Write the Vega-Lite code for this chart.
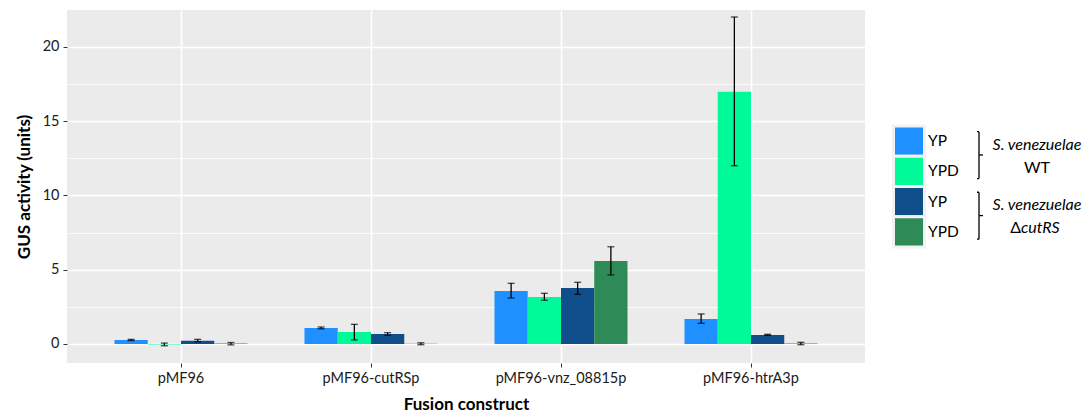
{
  "$schema": "https://vega.github.io/schema/vega-lite/v6.json",
  "autosize": {"type": "pad"},
  "padding": {"left": 15, "top": 10, "right": 0, "bottom": 0},
  "background": "white",
  "bounds": "flush",
  "center": true,
  "spacing": 25,
  "config": {
    "font": "Lato",
    "view": {"stroke": null},
    "axis": {"labelFont": "Lato", "titleFont": "Lato", "labelColor": "#1a1a1a", "titleColor": "#000000", "labelFontSize": 14.5, "titleFontSize": 17, "titleFontWeight": "bold"},
    "text": {"font": "Lato"}
  },
  "datasets": {
    "gus": [
      {"construct": "pMF96", "series": "WT YP", "value": 0.27, "lo": 0.23, "hi": 0.31},
      {"construct": "pMF96", "series": "WT YPD", "value": -0.03, "lo": -0.12, "hi": 0.06},
      {"construct": "pMF96", "series": "ΔcutRS YP", "value": 0.22, "lo": 0.15, "hi": 0.31},
      {"construct": "pMF96", "series": "ΔcutRS YPD", "value": 0.03, "lo": -0.06, "hi": 0.1},
      {"construct": "pMF96-cutRSp", "series": "WT YP", "value": 1.08, "lo": 1.02, "hi": 1.14},
      {"construct": "pMF96-cutRSp", "series": "WT YPD", "value": 0.81, "lo": 0.27, "hi": 1.32},
      {"construct": "pMF96-cutRSp", "series": "ΔcutRS YP", "value": 0.67, "lo": 0.59, "hi": 0.76},
      {"construct": "pMF96-cutRSp", "series": "ΔcutRS YPD", "value": 0.02, "lo": -0.05, "hi": 0.08},
      {"construct": "pMF96-vnz_08815p", "series": "WT YP", "value": 3.56, "lo": 3.09, "hi": 4.08},
      {"construct": "pMF96-vnz_08815p", "series": "WT YPD", "value": 3.16, "lo": 2.94, "hi": 3.41},
      {"construct": "pMF96-vnz_08815p", "series": "ΔcutRS YP", "value": 3.77, "lo": 3.34, "hi": 4.15},
      {"construct": "pMF96-vnz_08815p", "series": "ΔcutRS YPD", "value": 5.58, "lo": 4.64, "hi": 6.54},
      {"construct": "pMF96-htrA3p", "series": "WT YP", "value": 1.68, "lo": 1.39, "hi": 2.02},
      {"construct": "pMF96-htrA3p", "series": "WT YPD", "value": 16.97, "lo": 11.99, "hi": 22.0},
      {"construct": "pMF96-htrA3p", "series": "ΔcutRS YP", "value": 0.6, "lo": 0.58, "hi": 0.65},
      {"construct": "pMF96-htrA3p", "series": "ΔcutRS YPD", "value": 0.03, "lo": -0.05, "hi": 0.11}
    ],
    "keys": [
      {"key": "WT YP", "medium": "YP"},
      {"key": "WT YPD", "medium": "YPD"},
      {"key": "ΔcutRS YP", "medium": "YP"},
      {"key": "ΔcutRS YPD", "medium": "YPD"}
    ],
    "brackets": [
      {"top": "WT YP", "bottom": "WT YPD", "species": "S. venezuelae", "upright": "WT", "italic": ""},
      {"top": "ΔcutRS YP", "bottom": "ΔcutRS YPD", "species": "S. venezuelae", "upright": "Δ", "italic": "cutRS"}
    ]
  },
  "hconcat": [
    {
      "width": 798,
      "height": 353,
      "view": {"fill": "#EBEBEB", "stroke": null},
      "data": {"name": "gus"},
      "encoding": {
        "x": {
          "field": "construct", "type": "nominal",
          "sort": ["pMF96", "pMF96-cutRSp", "pMF96-vnz_08815p", "pMF96-htrA3p"],
          "scale": {"paddingInner": 0.3, "paddingOuter": 0.25},
          "axis": {"title": "Fusion construct", "labelAngle": 0, "grid": true, "gridColor": "#FFFFFF", "gridWidth": 1.6, "bandPosition": 0.5, "domain": false, "tickSize": 4, "tickColor": "#333333", "labelPadding": 4, "titlePadding": 12}
        },
        "xOffset": {
          "field": "series", "type": "nominal",
          "sort": ["WT YP", "WT YPD", "ΔcutRS YP", "ΔcutRS YPD"],
          "scale": {"paddingInner": 0, "paddingOuter": 0}
        }
      },
      "layer": [
        {
          "mark": {"type": "bar"},
          "encoding": {
            "y": {
              "field": "value", "type": "quantitative", "title": "GUS activity (units)",
              "scale": {"domain": [-1.28, 22.47], "nice": false, "zero": false},
              "axis": {
                "values": [0, 2.5, 5, 7.5, 10, 12.5, 15, 17.5, 20],
                "labelExpr": "datum.value % 5 === 0 ? datum.label : ''",
                "gridColor": "#FFFFFF",
                "gridWidth": {"condition": {"test": "datum.value % 5 === 0", "value": 1.6}, "value": 0.8},
                "tickOpacity": {"condition": {"test": "datum.value % 5 === 0", "value": 1}, "value": 0},
                "domain": false, "tickSize": 4, "tickColor": "#333333", "labelPadding": 4, "titlePadding": 9
              }
            },
            "color": {
              "field": "series", "type": "nominal",
              "scale": {"domain": ["WT YP", "WT YPD", "ΔcutRS YP", "ΔcutRS YPD"], "range": ["#1E90FF", "#00FA9A", "#104E8B", "#2E8B57"]},
              "legend": null
            }
          }
        },
        {
          "mark": {"type": "rule", "color": "#000000", "strokeWidth": 1.3},
          "encoding": {
            "y": {"field": "lo", "type": "quantitative", "title": "GUS activity (units)", "scale": {"domain": [-1.28, 22.47], "nice": false, "zero": false}},
            "y2": {"field": "hi"}
          }
        },
        {
          "mark": {"type": "tick", "color": "#000000", "thickness": 1.3, "size": 7},
          "encoding": {
            "y": {"field": "lo", "type": "quantitative", "title": "GUS activity (units)", "scale": {"domain": [-1.28, 22.47], "nice": false, "zero": false}}
          }
        },
        {
          "mark": {"type": "tick", "color": "#000000", "thickness": 1.3, "size": 7},
          "encoding": {
            "y": {"field": "hi", "type": "quantitative", "title": "GUS activity (units)", "scale": {"domain": [-1.28, 22.47], "nice": false, "zero": false}}
          }
        }
      ]
    },
    {
      "width": 194,
      "height": 121.2,
      "layer": [
        {
          "data": {"name": "keys"},
          "mark": {"type": "rect", "stroke": "#F2F2F2", "strokeWidth": 3},
          "encoding": {
            "y": {"field": "key", "type": "nominal", "scale": {"type": "band", "domain": ["WT YP", "WT YPD", "ΔcutRS YP", "ΔcutRS YPD"], "paddingInner": 0, "paddingOuter": 0}, "axis": null},
            "x": {"datum": 3.5, "type": "quantitative", "scale": {"domain": [0, 194], "nice": false, "zero": false}, "axis": null},
            "x2": {"datum": 34.5},
            "color": {"field": "key", "type": "nominal", "scale": {"domain": ["WT YP", "WT YPD", "ΔcutRS YP", "ΔcutRS YPD"], "range": ["#1E90FF", "#00FA9A", "#104E8B", "#2E8B57"]}, "legend": null}
          }
        },
        {
          "data": {"name": "keys"},
          "mark": {"type": "text", "align": "left", "baseline": "middle", "fontSize": 15.5, "color": "#000000"},
          "encoding": {
            "y": {"field": "key", "type": "nominal", "axis": null},
            "x": {"datum": 38, "type": "quantitative", "axis": null},
            "text": {"field": "medium"}
          }
        },
        {
          "data": {"name": "brackets"},
          "mark": {"type": "rule", "color": "#000000", "strokeWidth": 1.3},
          "encoding": {
            "x": {"datum": 89, "type": "quantitative", "axis": null},
            "y": {"field": "top", "type": "nominal", "bandPosition": 0.19, "axis": null},
            "y2": {"field": "bottom", "bandPosition": 0.74}
          }
        },
        {
          "data": {"name": "brackets"},
          "mark": {"type": "rule", "color": "#000000", "strokeWidth": 1.3},
          "encoding": {
            "x": {"datum": 87, "type": "quantitative", "axis": null},
            "x2": {"datum": 89},
            "y": {"field": "top", "type": "nominal", "bandPosition": 0.19, "axis": null}
          }
        },
        {
          "data": {"name": "brackets"},
          "mark": {"type": "rule", "color": "#000000", "strokeWidth": 1.3},
          "encoding": {
            "x": {"datum": 87, "type": "quantitative", "axis": null},
            "x2": {"datum": 89},
            "y": {"field": "bottom", "type": "nominal", "bandPosition": 0.74, "axis": null}
          }
        },
        {
          "data": {"name": "brackets"},
          "mark": {"type": "rule", "color": "#000000", "strokeWidth": 1.3},
          "encoding": {
            "x": {"datum": 89, "type": "quantitative", "axis": null},
            "x2": {"datum": 93},
            "y": {"field": "top", "type": "nominal", "bandPosition": 0.96, "axis": null}
          }
        },
        {
          "data": {"name": "brackets"},
          "mark": {"type": "text", "align": "center", "baseline": "middle", "fontSize": 16, "fontStyle": "italic", "color": "#000000", "dy": -11.5},
          "encoding": {
            "x": {"datum": 147, "type": "quantitative", "axis": null},
            "y": {"field": "top", "type": "nominal", "bandPosition": 1, "axis": null},
            "text": {"field": "species"}
          }
        },
        {
          "data": {"name": "brackets"},
          "transform": [{"filter": "datum.italic === ''"}],
          "mark": {"type": "text", "align": "center", "baseline": "middle", "fontSize": 16, "color": "#000000", "dy": 11.5},
          "encoding": {
            "x": {"datum": 147, "type": "quantitative", "axis": null},
            "y": {"field": "top", "type": "nominal", "bandPosition": 1, "axis": null},
            "text": {"field": "upright"}
          }
        },
        {
          "data": {"name": "brackets"},
          "transform": [{"filter": "datum.italic !== ''"}],
          "mark": {"type": "text", "align": "right", "baseline": "middle", "fontSize": 16, "color": "#000000", "dy": 11.5},
          "encoding": {
            "x": {"datum": 131, "type": "quantitative", "axis": null},
            "y": {"field": "top", "type": "nominal", "bandPosition": 1, "axis": null},
            "text": {"field": "upright"}
          }
        },
        {
          "data": {"name": "brackets"},
          "transform": [{"filter": "datum.italic !== ''"}],
          "mark": {"type": "text", "align": "left", "baseline": "middle", "fontSize": 16, "fontStyle": "italic", "color": "#000000", "dy": 11.5},
          "encoding": {
            "x": {"datum": 131, "type": "quantitative", "axis": null},
            "y": {"field": "top", "type": "nominal", "bandPosition": 1, "axis": null},
            "text": {"field": "italic"}
          }
        }
      ]
    }
  ]
}
